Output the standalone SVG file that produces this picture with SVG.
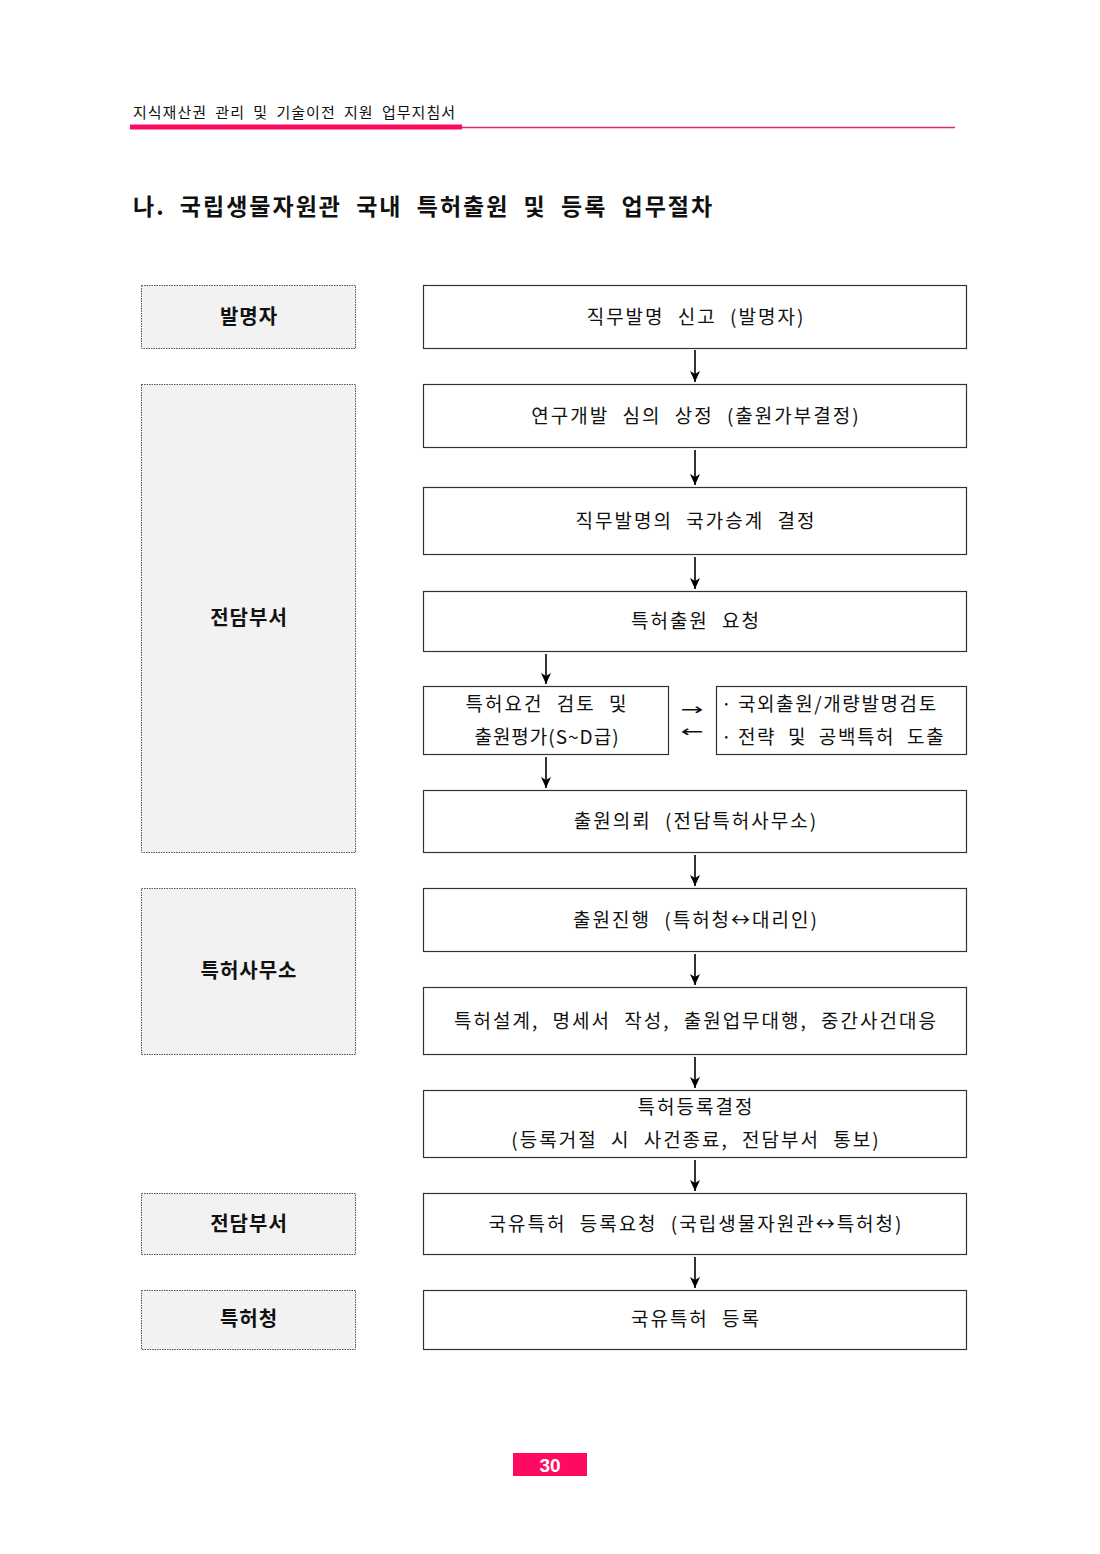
<svg xmlns="http://www.w3.org/2000/svg" width="1100" height="1554" viewBox="0 0 1100 1554">
<defs>
<marker id="ah" markerWidth="14" markerHeight="12" refX="12" refY="6" orient="auto" markerUnits="userSpaceOnUse">
<path d="M1,1 L12,6 L1,11 L4,6 Z" fill="#000"/>
</marker>
<style>
.lab{fill:#f2f2f2;stroke:#555;stroke-width:1;stroke-dasharray:1.5 1}
.box{fill:#fff;stroke:#333;stroke-width:1.2}
.lt{font-family:"Noto Sans CJK KR",sans-serif;font-weight:700;font-size:20px;fill:#111;text-anchor:middle;letter-spacing:1px}
.bt{font-family:"Noto Sans CJK KR",sans-serif;font-weight:400;font-size:19px;fill:#111;text-anchor:middle;letter-spacing:2px;word-spacing:7px}
.bl{font-family:"Noto Sans CJK KR",sans-serif;font-weight:400;font-size:19px;fill:#111;text-anchor:start;letter-spacing:1.6px;word-spacing:6px}
.nb{word-spacing:2px;letter-spacing:0}
.ar{font-family:"DejaVu Sans",sans-serif;font-size:16px;fill:#111;text-anchor:middle}
.con line{stroke:#000;stroke-width:1.6}
</style>
</defs>
<rect width="1100" height="1554" fill="#fff"/>
<g id="header">
<text x="133" y="118" font-family="Noto Sans CJK KR,sans-serif" font-size="15" fill="#111" letter-spacing="1" word-spacing="4">지식재산권 관리 및 기술이전 지원 업무지침서</text>
<rect x="130" y="124.5" width="332" height="5" fill="#ff0a63"/>
<line x1="462" y1="127.5" x2="955" y2="127.5" stroke="#e8226b" stroke-width="1.5"/>
</g>
<text id="title" x="133" y="215" font-family="Noto Sans CJK KR,sans-serif" font-weight="700" font-size="23" fill="#111" letter-spacing="2" word-spacing="7">나. 국립생물자원관 국내 특허출원 및 등록 업무절차</text>

<g id="lab1"><rect class="lab" x="141.5" y="285.5" width="214" height="63"/><text class="lt" x="249" y="324">발명자</text></g>
<g id="lab2"><rect class="lab" x="141.5" y="384.5" width="214" height="468"/><text class="lt" x="249" y="625">전담부서</text></g>
<g id="lab3"><rect class="lab" x="141.5" y="888.5" width="214" height="166"/><text class="lt" x="249" y="978">특허사무소</text></g>
<g id="lab4"><rect class="lab" x="141.5" y="1193.5" width="214" height="61"/><text class="lt" x="249" y="1231">전담부서</text></g>
<g id="lab5"><rect class="lab" x="141.5" y="1290.5" width="214" height="59"/><text class="lt" x="249" y="1326">특허청</text></g>

<g id="n1"><rect class="box" x="423.5" y="285.5" width="543" height="63"/><text class="bt" x="696" y="324">직무발명 신고 (발명자)</text></g>
<g id="n2"><rect class="box" x="423.5" y="384.5" width="543" height="63"/><text class="bt" x="696" y="423">연구개발 심의 상정 (출원가부결정)</text></g>
<g id="n3"><rect class="box" x="423.5" y="487.5" width="543" height="67"/><text class="bt" x="696" y="528">직무발명의 국가승계 결정</text></g>
<g id="n4"><rect class="box" x="423.5" y="591.5" width="543" height="60"/><text class="bt" x="696" y="628">특허출원 요청</text></g>
<g id="n5a"><rect class="box" x="423.5" y="686.5" width="245" height="68"/><text class="bt" x="547" y="711">특허요건 검토 및</text><text class="bt" x="547" y="744" style="letter-spacing:1px">출원평가(S~D급)</text></g>
<g id="n5b"><rect class="box" x="716.5" y="686.5" width="250" height="68"/><text class="bl" x="721" y="711"><tspan class="nb">· </tspan>국외출원/개량발명검토</text><text class="bl" x="721" y="744"><tspan class="nb">· </tspan>전략 및 공백특허 도출</text></g>
<g id="n6"><rect class="box" x="423.5" y="790.5" width="543" height="62"/><text class="bt" x="696" y="828">출원의뢰 (전담특허사무소)</text></g>
<g id="n7"><rect class="box" x="423.5" y="888.5" width="543" height="63"/><text class="bt" x="696" y="927">출원진행 (특허청↔대리인)</text></g>
<g id="n8"><rect class="box" x="423.5" y="987.5" width="543" height="67"/><text class="bt" x="696" y="1028">특허설계, 명세서 작성, 출원업무대행, 중간사건대응</text></g>
<g id="n9"><rect class="box" x="423.5" y="1090.5" width="543" height="67"/><text class="bt" x="696" y="1114">특허등록결정</text><text class="bt" x="696" y="1147">(등록거절 시 사건종료, 전담부서 통보)</text></g>
<g id="n10"><rect class="box" x="423.5" y="1193.5" width="543" height="61"/><text class="bt" x="696" y="1231">국유특허 등록요청 (국립생물자원관↔특허청)</text></g>
<g id="n11"><rect class="box" x="423.5" y="1290.5" width="543" height="59"/><text class="bt" x="696" y="1326">국유특허 등록</text></g>

<g id="connectors" class="con">
<line x1="695" y1="350" x2="695" y2="382" marker-end="url(#ah)"/>
<line x1="695" y1="450" x2="695" y2="485" marker-end="url(#ah)"/>
<line x1="695" y1="557" x2="695" y2="589" marker-end="url(#ah)"/>
<line x1="546" y1="654" x2="546" y2="684" marker-end="url(#ah)"/>
<line x1="546" y1="757" x2="546" y2="788" marker-end="url(#ah)"/>
<line x1="695" y1="855" x2="695" y2="886" marker-end="url(#ah)"/>
<line x1="695" y1="954" x2="695" y2="985" marker-end="url(#ah)"/>
<line x1="695" y1="1057" x2="695" y2="1088" marker-end="url(#ah)"/>
<line x1="695" y1="1160" x2="695" y2="1191" marker-end="url(#ah)"/>
<line x1="695" y1="1257" x2="695" y2="1288" marker-end="url(#ah)"/>
<text class="ar" transform="translate(692,715) scale(1.7,1)" x="0" y="0">→</text>
<text class="ar" transform="translate(692,737) scale(1.7,1)" x="0" y="0">←</text>
</g>

<g id="page">
<rect x="513" y="1453" width="74" height="23" fill="#ff0a63"/>
<text x="550" y="1472" font-family="Liberation Sans,sans-serif" font-weight="700" font-size="19" fill="#fff" text-anchor="middle">30</text>
</g>
</svg>
